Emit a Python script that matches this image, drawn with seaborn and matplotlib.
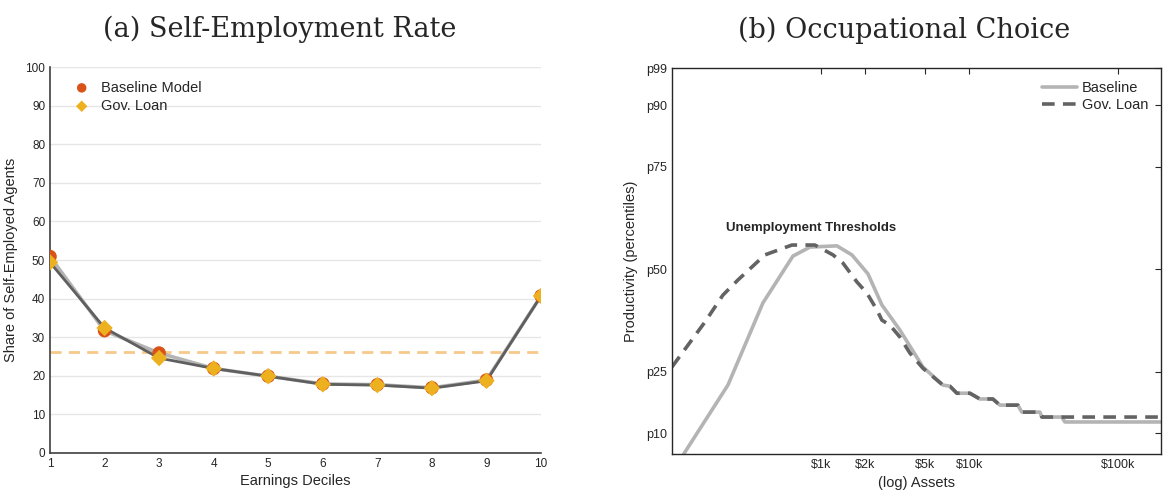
import numpy as np
import pandas as pd
import seaborn as sns
import matplotlib.pyplot as plt

# Panel (a): self-employment rate by earnings decile
deciles = [1, 2, 3, 4, 5, 6, 7, 8, 9, 10]
baseline_rate = [50.9, 31.7, 25.9, 21.9, 19.9, 17.9, 17.7, 16.9, 18.9, 40.7]
govloan_rate = [49.4, 32.4, 24.6, 21.9, 19.9, 17.8, 17.6, 16.8, 18.7, 40.7]
avg_rate = 26.1

# Panel (b): unemployment thresholds (assets in $, productivity percentile)
baseline_assets = [120, 238, 409, 651, 847, 1287, 1623, 2080, 2584, 3413, 4874, 6640,
                   7410, 8260, 10100, 11780, 14410, 16070, 21230, 22580, 29850, 30780,
                   41970, 43970, 195000]
baseline_pct = [5.0, 21.8, 41.8, 53.2, 55.4, 55.7, 53.5, 48.9, 41.3, 35.2, 26.2, 21.8,
                21.5, 19.8, 19.8, 18.4, 18.4, 16.9, 16.9, 15.2, 15.2, 14.0,
                14.0, 12.8, 12.8]
govloan_assets = [100, 128, 167, 220, 278, 422, 641, 915, 1211, 1413, 1755, 2048, 2391,
                  2584, 2923, 3413, 3984, 4874, 6640, 7410, 8260, 10100, 11780, 14410,
                  16070, 21230, 22580, 29850, 30780, 195000]
govloan_pct = [26.2, 31.5, 37.2, 43.7, 47.4, 53.5, 55.9, 55.9, 53.5, 51.5, 46.9, 44.2, 40.1,
               37.6, 36.4, 33.5, 29.6, 25.9, 21.8, 21.5, 19.8, 19.8, 18.4, 18.4,
               16.9, 16.9, 15.2, 15.2, 14.0, 14.0]

pct_ticks = [10, 25, 50, 75, 90, 99]
pct_labels = ['p10', 'p25', 'p50', 'p75', 'p90', 'p99']
asset_ticks = [1000, 2000, 5000, 10000, 100000]
asset_labels = ['$1k', '$2k', '$5k', '$10k', '$100k']

sns.set_style('white')
plt.rcParams['font.family'] = ['Liberation Sans', 'DejaVu Sans']
axis_col = '#404040'

fig = plt.figure(figsize=(11.63, 4.96), dpi=100)
ax1 = fig.add_axes([0.043, 0.0867, 0.4222, 0.778])
ax2 = fig.add_axes([0.5778, 0.0847, 0.4205, 0.778])

# ---- panel (a)
df_a = pd.DataFrame({'decile': deciles, 'base': baseline_rate, 'gov': govloan_rate})
for yv in range(10, 101, 10):
    ax1.axhline(yv, color='#e6e6e6', lw=1, zorder=0)
ax1.axhline(avg_rate, color='#f6c98a', lw=2, ls=(0, (4, 2.6)), zorder=1)
sns.lineplot(data=df_a, x='decile', y='base', ax=ax1, color='#b4b4b4', lw=2.6, zorder=2)
sns.lineplot(data=df_a, x='decile', y='gov', ax=ax1, color='#5f5f5f', lw=2, zorder=3)
sns.scatterplot(data=df_a, x='decile', y='base', ax=ax1, marker='o', s=95,
                color='#d95319', edgecolor='none', label='Baseline Model', zorder=4)
sns.scatterplot(data=df_a, x='decile', y='gov', ax=ax1, marker='D', s=70,
                color='#edb120', edgecolor='none', label='Gov. Loan', zorder=5)
ax1.set_xlim(1, 10)
ax1.set_ylim(0, 100)
ax1.set_xticks(deciles)
ax1.set_yticks(range(0, 101, 10))
ax1.set_xlabel('Earnings Deciles', fontsize=10.5, color='#262626', labelpad=3)
ax1.set_ylabel('Share of Self-Employed Agents', fontsize=10.5, color='#262626', labelpad=5)
ax1.set_title('(a) Self-Employment Rate', fontsize=19.5, family='DejaVu Serif', pad=22,
              x=0.468)
for s in ['top', 'right']:
    ax1.spines[s].set_visible(False)
for s in ['left', 'bottom']:
    ax1.spines[s].set_color(axis_col)
    ax1.spines[s].set_linewidth(1.2)
ax1.tick_params(direction='in', length=4, width=0.8, labelsize=8.5, colors='#262626',
                color=axis_col)
leg = ax1.legend(loc='upper left', frameon=False, fontsize=10.5, handletextpad=0.5,
                 borderaxespad=0.4, labelspacing=0.3, handlelength=1.6, markerscale=0.7,
                 bbox_to_anchor=(0.017, 0.995))

# ---- panel (b)
df_b1 = pd.DataFrame({'assets': baseline_assets, 'pct': baseline_pct})
df_b2 = pd.DataFrame({'assets': govloan_assets, 'pct': govloan_pct})
sns.lineplot(data=df_b1, x='assets', y='pct', ax=ax2, color='#b4b4b4', lw=2.6,
             sort=False, estimator=None, label='Baseline')
sns.lineplot(data=df_b2, x='assets', y='pct', ax=ax2, color='#636363', lw=2.6,
             sort=False, estimator=None, ls=(0, (3.5, 2.3)), label='Gov. Loan')
ax2.set_xscale('log')
ax2.set_xlim(100, 195000)
ax2.set_ylim(5, 99)
ax2.set_xticks(asset_ticks)
ax2.set_xticklabels(asset_labels)
ax2.xaxis.set_minor_locator(plt.NullLocator())
ax2.set_yticks(pct_ticks)
ax2.set_yticklabels(pct_labels)
ax2.text(861, 60.1, 'Unemployment Thresholds', ha='center', va='center',
         fontsize=9.5, fontweight='bold')
ax2.set_xlabel('(log) Assets', fontsize=10.5, color='#262626', labelpad=4)
ax2.set_ylabel('Productivity (percentiles)', fontsize=10.5, color='#262626', labelpad=6)
ax2.set_title('(b) Occupational Choice', fontsize=19.5, family='DejaVu Serif', pad=22,
              x=0.474)
for s in ax2.spines.values():
    s.set_color('#262626')
    s.set_linewidth(1.0)
ax2.tick_params(direction='in', length=4, width=0.8, labelsize=9, colors='#262626',
                top=True, right=True)
ax2.legend(loc='upper right', frameon=False, fontsize=10.5, handlelength=2.4,
           handletextpad=0.3, labelspacing=0.2, borderaxespad=0.5)

fig.savefig('out.png', dpi=100)
